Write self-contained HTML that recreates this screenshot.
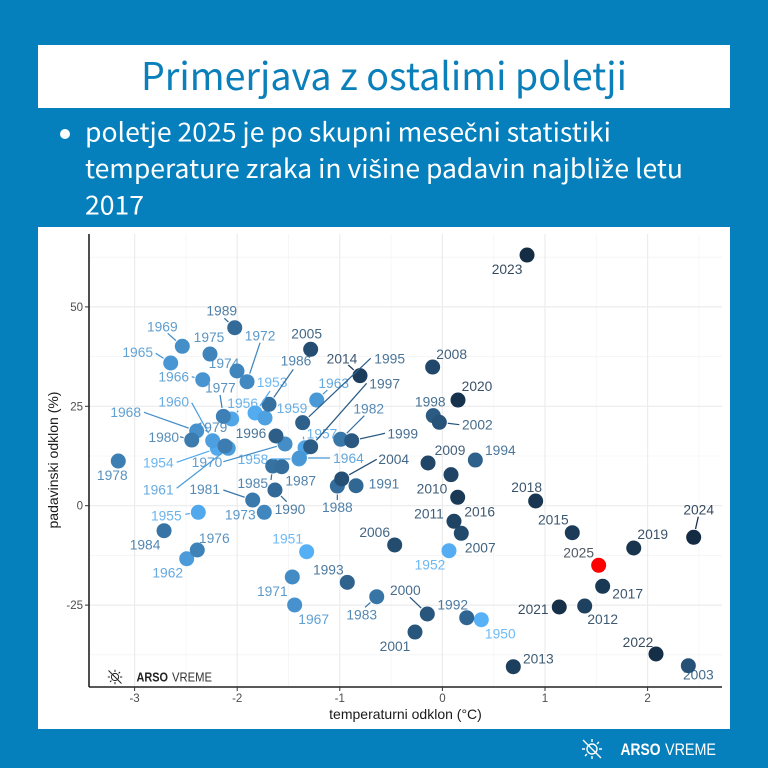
<!DOCTYPE html>
<html lang="sl">
<head>
<meta charset="utf-8">
<title>Primerjava z ostalimi poletji</title>
<style>
html,body{margin:0;padding:0;background:#0680bc;}
svg{display:block;}
text{font-family:"Liberation Sans",Arial,sans-serif;}
.head{font-family:"Noto Sans CJK SC","Liberation Sans",sans-serif;}
.lat{font-family:"Liberation Sans",Arial,sans-serif;}
</style>
</head>
<body>
<svg id="slide" xmlns="http://www.w3.org/2000/svg" width="768" height="768" viewBox="0 0 768 768">
  <rect x="0" y="0" width="768" height="768" fill="#0680bc"/>
  <rect x="38" y="45" width="692" height="63" fill="#ffffff"/>
  <text class="head" x="141" y="90" font-size="38" fill="#0a7fba" textLength="486" lengthAdjust="spacingAndGlyphs">Primerjava z ostalimi poletji</text>
  <circle cx="65" cy="134" r="5" fill="#ffffff"/>
  <text class="head" x="85" y="141.5" font-size="26" fill="#ffffff" textLength="526" lengthAdjust="spacingAndGlyphs">poletje 2025 je po skupni mese<tspan class="lat">č</tspan>ni statistiki</text>
  <text class="head" x="85" y="178" font-size="26" fill="#ffffff" textLength="598" lengthAdjust="spacingAndGlyphs">temperature zraka in vi<tspan class="lat">š</tspan>ine padavin najbli<tspan class="lat">ž</tspan>e letu</text>
  <text class="head" x="85" y="214.5" font-size="26" fill="#ffffff" textLength="59" lengthAdjust="spacingAndGlyphs">2017</text>
  <rect x="38" y="227" width="692" height="502" fill="#ffffff"/>
  <g id="grid"></g>
  <g id="labels"></g>
  <g id="points"></g>
  <g id="leaders"></g>
  <g id="axes"></g>
  <text x="405.5" y="719" font-size="14" fill="#1a1a1a" text-anchor="middle">temperaturni odklon (°C)</text>
  <text transform="translate(58,460) rotate(-90)" font-size="14" fill="#1a1a1a" text-anchor="middle">padavinski odklon (%)</text>

  <g transform="translate(115,677) scale(0.72)" stroke="#222222" stroke-width="1.4" fill="none">
    <circle r="5"/><path d="M-9 -9L9 9M0 -10V-7M0 7V10M-10 0H-7M7 0H10M7 -7L5 -5M-7 7L-5 5"/>
  </g>
  <text x="136.5" y="681.5" font-size="13" font-weight="bold" fill="#222222" textLength="31.5" lengthAdjust="spacingAndGlyphs">ARSO</text>
  <text x="172" y="681.5" font-size="13" fill="#333333" textLength="40" lengthAdjust="spacingAndGlyphs">VREME</text>

  <g transform="translate(592,749)" stroke="#ffffff" stroke-width="1.4" fill="none">
    <circle r="5"/><path d="M-9 -9L9 9M0 -10V-7M0 7V10M-10 0H-7M7 0H10M7 -7L5 -5M-7 7L-5 5"/>
  </g>
  <text x="620.5" y="755" font-size="16.5" font-weight="bold" fill="#ffffff" textLength="40" lengthAdjust="spacingAndGlyphs">ARSO</text>
  <text x="665" y="755" font-size="16.5" fill="#ffffff" textLength="51" lengthAdjust="spacingAndGlyphs">VREME</text>
</svg>

<script>
// ---- chart data ----
const years = [1950,1951,1952,1953,1954,1955,1956,1957,1958,1959,1960,1961,1962,1963,1964,1965,1966,1967,1968,1969,1970,1971,1972,1973,1974,1975,1976,1977,1978,1979,1980,1981,1982,1983,1984,1985,1986,1987,1988,1989,1990,1991,1992,1993,1994,1995,1996,1997,1998,1999,2000,2001,2002,2003,2004,2005,2006,2007,2008,2009,2010,2011,2012,2013,2014,2015,2016,2017,2018,2019,2020,2021,2022,2023,2024,2025];
const temperatureAnomaly = [0.379,-1.323,0.064,-1.826,-2.194,-2.379,-2.054,-1.339,-1.398,-1.729,-2.239,-2.087,-2.492,-1.225,-1.393,-2.648,-2.336,-1.440,-2.395,-2.535,-1.534,-1.463,-1.904,-1.736,-2.002,-2.265,-2.389,-2.135,-3.159,-2.119,-2.443,-1.849,-0.991,-0.640,-2.713,-1.654,-1.690,-1.566,-1.024,-2.024,-1.632,-0.842,0.237,-0.927,0.321,-1.362,-1.622,-1.284,-0.089,-0.884,-0.147,-0.267,-0.030,2.397,-0.981,-1.284,-0.465,0.184,-0.095,-0.140,0.084,0.113,1.387,0.691,-0.803,1.266,0.149,1.562,0.909,1.865,0.152,1.139,2.082,0.825,2.449,1.523];
const precipitationAnomaly = [-28.67,-11.57,-11.32,23.32,14.44,-1.66,21.81,14.59,11.75,22.06,16.35,14.44,-13.33,26.58,12.00,35.89,31.69,-24.97,18.79,40.09,15.52,-17.93,31.19,-1.66,33.88,38.15,-11.14,22.48,11.24,15.02,16.52,1.43,16.70,-22.89,-6.29,9.98,25.50,9.81,4.95,44.77,3.95,5.03,-28.17,-19.27,11.49,20.88,17.53,14.84,22.64,16.35,-27.24,-31.77,20.98,-40.24,6.72,39.34,-9.88,-6.94,34.88,10.74,7.80,-3.92,-25.23,-40.49,32.70,-6.79,2.11,-20.27,1.18,-10.64,26.58,-25.48,-37.30,63.05,-7.95,-14.99];
const xTickValues = [-3,-2,-1,0,1,2];
const xTickLabels = ["-3","-2","-1","0","1","2"];
const yTickValues = [-25,0,25,50];
const yTickLabels = ["-25","0","25","50"];
const xMinorValues = [-2.5,-1.5,-0.5,0.5,1.5,2.5];
const yMinorValues = [-37.5,-12.5,12.5,37.5,62.5];

// ---- layout of the repelled labels, relative to each point (not data) ----
const labelLayout = {
1950:[19,14],1951:[-19,-13],1952:[-19,14],1953:[17,-31,15,-22],1954:[-59,14,-40.6,14],1955:[-32,3,-13,2],1956:[11,-16,6.6,-8.3],1957:[17,-14,-1.7,-11],1958:[-46,0,-27.3,0],1959:[27,-10],
1960:[-39,-39,-21,-38],1961:[-70,41,-51.6,40],1962:[-19,14],1963:[17,-17,10.6,-10],1964:[49,0,30.5,0],1965:[-33,-11,-15,-9.7],1966:[-29,-3,-11,-3],1967:[19,14],1968:[-71,-19,-52.7,-18.7],1969:[-20,-20,-14.6,-13],
1970:[-78,18,-61.7,17.7],1971:[-20,14],1972:[13,-46,13,-39],1973:[-24,2],1974:[-13,-8],1975:[-1,-17],1976:[17,-12],1977:[-3,-29,-3.3,-21.3],1978:[-6,14],1979:[-13,-19],
1980:[-28,-3,-11.7,-3.3],1981:[-48,-11,-29.4,-10],1982:[28,-31,23.6,-23.6],1983:[-15,18,-11.7,10.6],1984:[-19,14],1985:[-20,17,-1.7,14],1986:[27,-44,24.3,-35],1987:[19,14],1988:[0,21,0,14],1989:[-13,-17,-10.4,-9.4],
1990:[15,19,11.7,11.7],1991:[28,-2],1992:[-14,-13],1993:[-19,-13],1994:[25,-10],1995:[87,-64,68,-64.4],1996:[-25,-3],1997:[74,-63,56,-63.4],1998:[-3,-14],1999:[51,-7,33.3,-7.4],
2000:[-22,-24,-17.3,-16.7],2001:[-20,14],2002:[38,2,20,2.4],2003:[10,9],2004:[52,-20,35,-19.7],2005:[-4,-16],2006:[-20,-13],2007:[19,14],2008:[19,-13],2009:[22,-13],
2010:[-19,14],2011:[-25,-8],2012:[18,13],2013:[25,-8],2014:[-18,-17,-11.7,-10.7],2015:[-19,-13],2016:[22,14],2017:[25,7],2018:[-9,-14],2019:[19,-14],
2020:[19,-14],2021:[-26,2],2022:[-18,-12],2023:[-20,14],2024:[5,-28,4.6,-20.6],2025:[-20,-13]
};

const NS = "http://www.w3.org/2000/svg";
const plot = {left:89, right:722, top:234, bottom:687};
const pointRadius = 7.5;
function xScale(v){ return 442.4 + v * 102.6; }
function yScale(v){ return 505.7 - v * 3.976; }
function yearColor(y){
  if (y === 2025) return "#ff0000";
  const t = Math.min(1, (y - 1950) / 74);
  const a = [86,177,247], b = [19,43,67];
  return "rgb(" + a.map((c,i) => Math.round(c + (b[i] - c) * t)).join(",") + ")";
}
function make(tag, attrs, parent){
  const el = document.createElementNS(NS, tag);
  for (const k in attrs) el.setAttribute(k, attrs[k]);
  parent.appendChild(el);
  return el;
}

const gridG = document.getElementById("grid");
const axesG = document.getElementById("axes");
const labelsG = document.getElementById("labels");
const pointsG = document.getElementById("points");
const leadersG = document.getElementById("leaders");

xMinorValues.forEach(v => {
  const el = make("line", {x1:xScale(v), x2:xScale(v), y1:plot.top, y2:plot.bottom, stroke:"#f4f4f4", "stroke-width":0.8}, gridG);
  
  
});
yMinorValues.forEach(v => {
  const el = make("line", {x1:plot.left, x2:plot.right, y1:yScale(v), y2:yScale(v), stroke:"#f4f4f4", "stroke-width":0.8}, gridG);
  
  
});
xTickValues.forEach(v => {
  const el = make("line", {x1:xScale(v), x2:xScale(v), y1:plot.top, y2:plot.bottom, stroke:"#ececec", "stroke-width":1.2}, gridG);
  
  
});
yTickValues.forEach(v => {
  const el = make("line", {x1:plot.left, x2:plot.right, y1:yScale(v), y2:yScale(v), stroke:"#ececec", "stroke-width":1.2}, gridG);
  
  
});

const xAxisLine = make("line", {x1:plot.left, x2:plot.right, y1:plot.bottom, y2:plot.bottom, stroke:"#222222", "stroke-width":1.6}, axesG);


const yAxisLine = make("line", {x1:plot.left, x2:plot.left, y1:plot.top, y2:plot.bottom, stroke:"#222222", "stroke-width":1.6}, axesG);



xTickValues.forEach((v,i) => {
  const tick = make("line", {x1:xScale(v), x2:xScale(v), y1:plot.bottom, y2:plot.bottom + 4, stroke:"#333333", "stroke-width":1}, axesG);
  
  
  const t = make("text", {x:xScale(v), y:702, "font-size":11.5, fill:"#4d4d4d", "text-anchor":"middle"}, axesG);
  t.textContent = xTickLabels[i];
  
  
});
yTickValues.forEach((v,i) => {
  const tick = make("line", {x1:plot.left - 4, x2:plot.left, y1:yScale(v), y2:yScale(v), stroke:"#333333", "stroke-width":1}, axesG);
  
  
  const t = make("text", {x:plot.left - 6, y:yScale(v) + 4, "font-size":11.5, fill:"#4d4d4d", "text-anchor":"end"}, axesG);
  t.textContent = yTickLabels[i];
  
  
});

years.forEach((year,i) => {
  const px = xScale(temperatureAnomaly[i]);
  const py = yScale(precipitationAnomaly[i]);
  const layout = labelLayout[year];
  const color = yearColor(year);

  const label = make("text", {x:px + layout[0], y:py + layout[1] + 5, "font-size":13.8, fill: year === 2025 ? "#33404d" : color, "text-anchor":"middle", opacity:0.86}, labelsG);
  label.textContent = String(year);
  
  

  const dot = make("circle", {cx:px, cy:py, r:pointRadius, fill:color}, pointsG);
  
  

  if (layout.length > 2) {
    const sx = px + layout[2], sy = py + layout[3];
    const dx = px - sx, dy = py - sy;
    const len = Math.hypot(dx, dy);
    const stop = pointRadius + 1;
    if (len > stop) {
      const seg = make("line", {x1:sx, y1:sy, x2:px - dx / len * stop, y2:py - dy / len * stop, stroke:color, "stroke-width":1.25}, leadersG);
      
      
    }
  }
});
</script>
</body>
</html>
